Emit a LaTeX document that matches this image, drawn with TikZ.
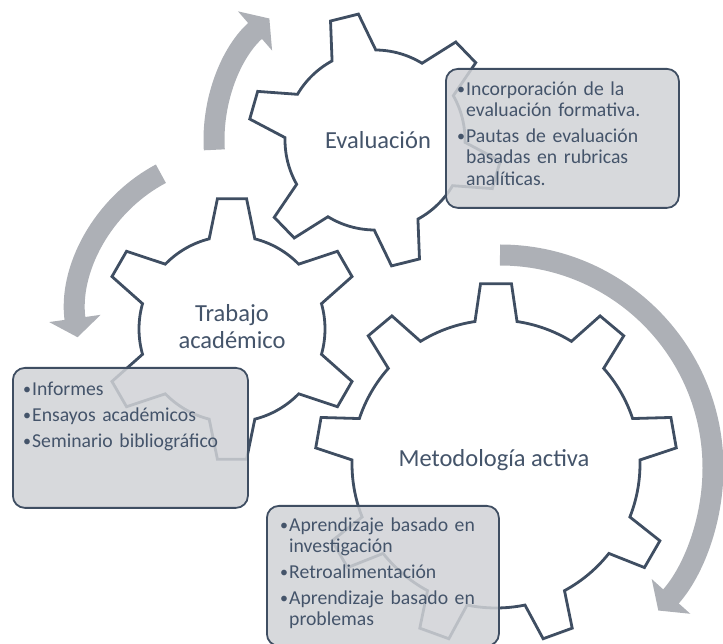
\documentclass[tikz,border=0pt]{standalone}
\usepackage{fontspec}
\setmainfont{Carlito}
\usepackage{tikz}
\usetikzlibrary{arrows.meta}

\definecolor{gearblue}{HTML}{3F4E62}
\definecolor{labelblue}{HTML}{44546A}
\definecolor{arrowgray}{HTML}{ADB0B6}
\definecolor{boxgray}{HTML}{D0D2D6}

\tikzset{
  gearline/.style={draw=gearblue, line width=2.8pt, fill=white, line join=miter},
  cyclearrow/.style={draw=arrowgray, line width=21pt, -{Triangle[length=19pt,width=51pt]}},
  infobox/.style={draw=gearblue, line width=1.8pt, fill=boxgray, fill opacity=0.85,
    rounded corners=12pt, anchor=north west},
  gearlabel/.style={text=labelblue, font=\fontsize{24.5}{27}\selectfont, align=center},
  bullets/.style={text=labelblue, inner sep=0pt, anchor=north west, text width=#1, align=left,
    font=\fontsize{19.7}{21.3}\selectfont\setlength{\parskip}{4.7pt}}
}

% gear outline: centre, teeth, outer radius, root radius, phase, half angle at tip, half angle at root
\newcommand{\drawgear}[7]{%
  \pgfmathsetmacro{\gstep}{360/#2}
  \pgfmathtruncatemacro{\glast}{#2-1}
  \draw[gearline, shift={(#1)}] (#5-#7:#4)
    \foreach \k in {0,...,\glast}{
      -- (#5+\k*\gstep-#6:#3) -- (#5+\k*\gstep+#6:#3) -- (#5+\k*\gstep+#7:#4)
      arc[start angle=#5+\k*\gstep+#7, end angle=#5+\k*\gstep+\gstep-#7, radius=#4]
    } -- cycle;
}
\newcommand{\bul}[1]{\hangindent=9pt\hangafter=1\noindent
  \makebox[9pt][l]{\strut\raisebox{0.6pt}{\fontsize{16}{16}\selectfont•}}#1\par}

\begin{document}
\begin{tikzpicture}[x=1pt, y=1pt]
\useasboundingbox (0,0) rectangle (723,643);

\coordinate (evalc) at (375,503);
\coordinate (trabc) at (232,314);
\coordinate (metoc) at (496,179);

% arrows of the cycle
\draw[cyclearrow] (500,175) ++(90:213) arc[start angle=90, end angle=-42, radius=213];
\draw[cyclearrow] (evalc) ++(183.5:161) arc[start angle=183.5, end angle=131, radius=161];
\draw[cyclearrow] (236,328) ++(118:160) arc[start angle=118, end angle=188, radius=160];

% gears
\drawgear{metoc}{9}{181}{144}{90}{4.9}{8.4}
\drawgear{trabc}{6}{131}{93}{90}{6.4}{14.2}
\drawgear{evalc}{6}{127}{90}{104}{6.5}{14.5}

\node[gearlabel] (evallabel) at (378,503) {Evaluación};
\node[gearlabel] (trablabel) at (232,316) {Trabajo\\académico};
\node[gearlabel] (metolabel) at (494,183) {Metodología activa};

% boxes with the items
\node[infobox, minimum width=233pt, minimum height=139pt] (evalbox) at (445,575) {};
\node[infobox, minimum width=235pt, minimum height=140pt] (trabbox) at (12,276) {};
\node[infobox, minimum width=232pt, minimum height=140pt] (metobox) at (266,138) {};

\node[bullets=215pt] (evaltext) at ([shift={(12,-12)}]evalbox.north west)
  {\bul{Incorporación de la\newline evaluación formativa.}\bul{Pautas de evaluación\newline basadas en rubricas\newline analíticas.}};
\node[bullets=215pt] (trabtext) at ([shift={(11,-13)}]trabbox.north west)
  {\bul{Informes}\bul{Ensayos académicos}\bul{Seminario bibliográfico}};
\node[bullets=212pt] (metotext) at ([shift={(14,-11)}]metobox.north west)
  {\bul{Aprendizaje basado en\newline investigación}\bul{Retroalimentación}\bul{Aprendizaje basado en\newline problemas}};
\end{tikzpicture}
\end{document}
